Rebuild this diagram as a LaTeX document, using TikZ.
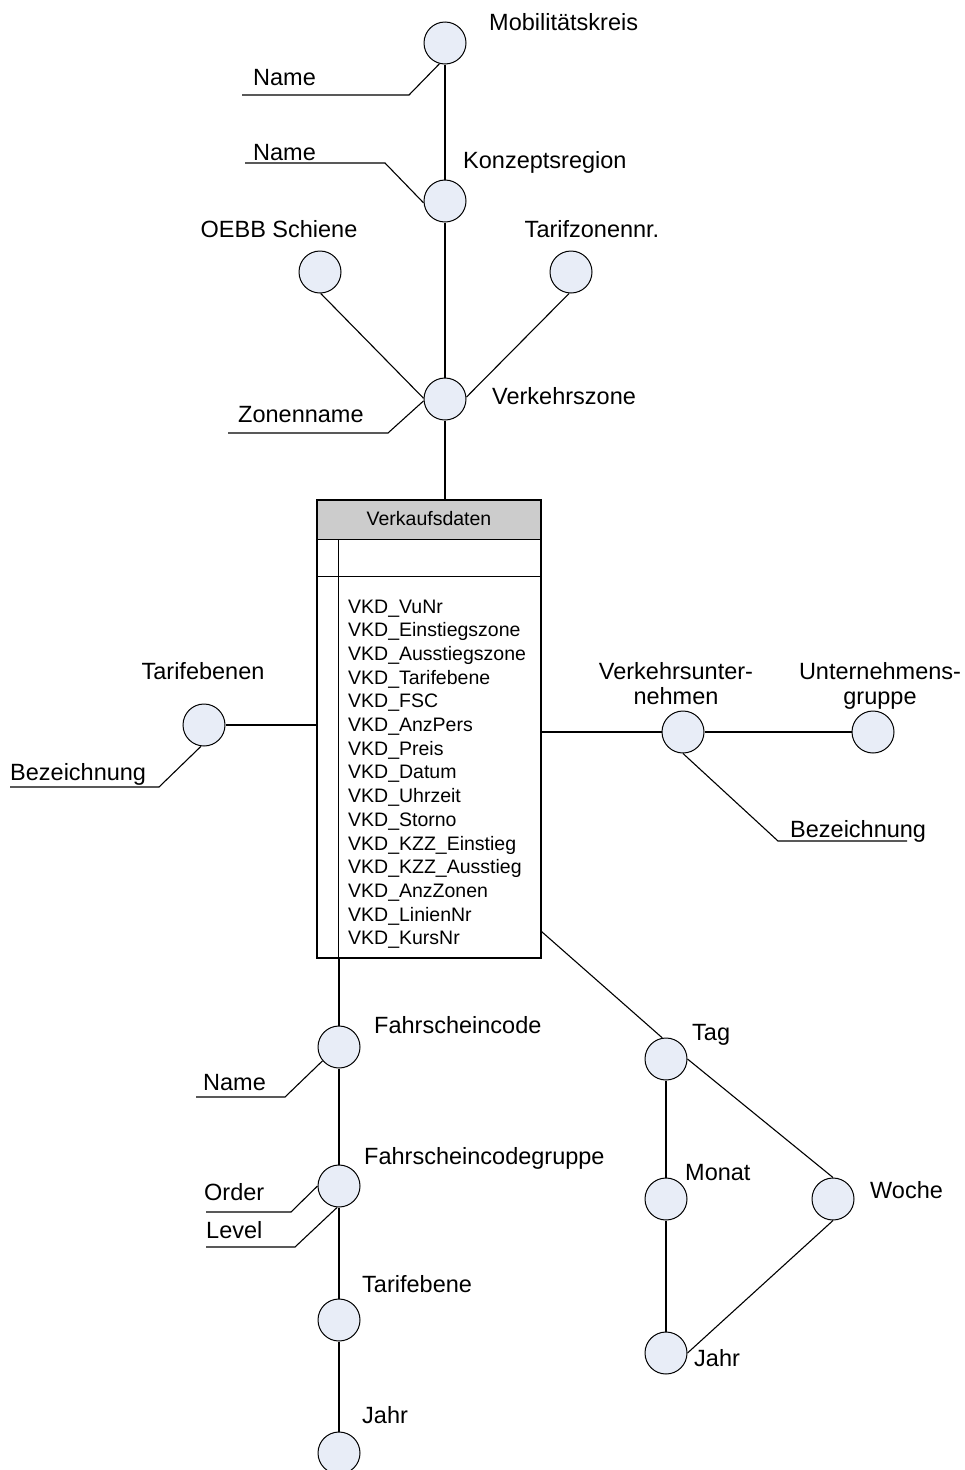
\documentclass[tikz,border=0pt]{standalone}
\usepackage{fontspec}
\setmainfont{Liberation Sans}
\usetikzlibrary{calc}
\definecolor{entfill}{RGB}{232,237,247}
\definecolor{headfill}{RGB}{204,204,204}
\begin{document}
\begin{tikzpicture}[x=1pt,y=-1pt,
  ent/.style={circle,draw,fill=entfill,minimum size=42pt,inner sep=0pt,line width=1pt},
  lbl/.style={inner sep=0pt,font=\fontsize{23.5}{25}\selectfont},
  row/.style={inner sep=0pt,anchor=base west,font=\fontsize{19.5}{23}\selectfont},
  conn/.style={line width=1.1pt}]
\useasboundingbox (0,0) rectangle (964,1470);
\clip (0,0) rectangle (964,1470);

% ---- fact table ----
\path[fill=headfill] (317,500) rectangle (541,540);
\node[draw,line width=1.1pt,minimum width=224pt,minimum height=458pt,inner sep=0pt] (vkd) at (429,729) {};
\draw[conn] ($(vkd.north west)+(0,40)$) -- ($(vkd.north east)+(0,40)$);
\draw[conn] ($(vkd.north west)+(0,77)$) -- ($(vkd.north east)+(0,77)$);
\draw[conn] ($(vkd.north west)+(22,40)$) -- ($(vkd.south west)+(22,0)$);
\node[row,anchor=base] (vkdtitle) at (429,525) {Verkaufsdaten};
\foreach \t [count=\i] in {VKD\_VuNr, VKD\_Einstiegszone, VKD\_Ausstiegszone,
  VKD\_Tarifebene, VKD\_FSC, VKD\_AnzPers, VKD\_Preis, VKD\_Datum, VKD\_Uhrzeit,
  VKD\_Storno, VKD\_KZZ\_Einstieg, VKD\_KZZ\_Ausstieg, VKD\_AnzZonen,
  VKD\_LinienNr, VKD\_KursNr}
  \node[row] (attr\i) at (348,{613+23.7*(\i-1)}) {\t};

% ---- dimension levels ----
\node[ent] (mk)  at (445,43)   {};
\node[ent] (kr)  at (445,201)  {};
\node[ent] (oe)  at (320,272)  {};
\node[ent] (tz)  at (571,272)  {};
\node[ent] (vz)  at (445,399)  {};
\node[ent] (te)  at (204,725)  {};
\node[ent] (vu)  at (683,732)  {};
\node[ent] (ug)  at (873,732)  {};
\node[ent] (fc)  at (339,1047) {};
\node[ent] (fcg) at (339,1186) {};
\node[ent] (tfe) at (339,1320) {};
\node[ent] (jl)  at (339,1453) {};
\node[ent] (tag) at (666,1059) {};
\node[ent] (mon) at (666,1199) {};
\node[ent] (wo)  at (833,1199) {};
\node[ent] (jr)  at (666,1353) {};

% ---- level labels ----
\node[lbl,anchor=base west] (lmk)  at (489,30)   {Mobilitätskreis};
\node[lbl,anchor=base west] (lkr)  at (463,168)  {Konzeptsregion};
\node[lbl,anchor=base]      (loe)  at (279,237)  {OEBB Schiene};
\node[lbl,anchor=base]      (ltz)  at (592,237)  {Tarifzonennr.};
\node[lbl,anchor=base west] (lvz)  at (492,404)  {Verkehrszone};
\node[lbl,anchor=base]      (lte)  at (203,679)  {Tarifebenen};
\node[lbl,anchor=north,align=center] (lvu) at (676,662) {Verkehrsunter-\\nehmen};
\node[lbl,anchor=north,align=center] (lug) at (880,662) {Unternehmens-\\gruppe};
\node[lbl,anchor=base west] (lfc)  at (374,1033) {Fahrscheincode};
\node[lbl,anchor=base west] (lfcg) at (364,1164) {Fahrscheincodegruppe};
\node[lbl,anchor=base west] (ltfe) at (362,1292) {Tarifebene};
\node[lbl,anchor=base west] (ljl)  at (362,1423) {Jahr};
\node[lbl,anchor=base west] (ltag) at (692,1040) {Tag};
\node[lbl,anchor=base west] (lmon) at (685,1180) {Monat};
\node[lbl,anchor=base west] (lwo)  at (870,1198) {Woche};
\node[lbl,anchor=base west] (ljr)  at (694,1366) {Jahr};

% ---- attribute labels ----
\node[lbl,anchor=base west] (amk)  at (253,85)   {Name};
\node[lbl,anchor=base west] (akr)  at (253,160)  {Name};
\node[lbl,anchor=base west] (avz)  at (238,422)  {Zonenname};
\node[lbl,anchor=base west] (ate)  at (10,780)   {Bezeichnung};
\node[lbl,anchor=base west] (avu)  at (790,837)  {Bezeichnung};
\node[lbl,anchor=base west] (afc)  at (203,1090) {Name};
\node[lbl,anchor=base west] (aord) at (204,1200) {Order};
\node[lbl,anchor=base west] (alev) at (206,1238) {Level};

% ---- attribute leader lines ----
\coordinate (mk1) at (409,95);   \coordinate (mk2) at (242,95);
\coordinate (kr1) at (385,163);  \coordinate (kr2) at (245,163);
\coordinate (vz1) at (388,433);  \coordinate (vz2) at (228,433);
\coordinate (te1) at (159,787);  \coordinate (te2) at (10,787);
\coordinate (vu1) at (778,841);  \coordinate (vu2) at (907,841);
\coordinate (fc1) at (285,1097); \coordinate (fc2) at (196,1097);
\coordinate (or1) at (291,1212); \coordinate (or2) at (206,1212);
\coordinate (lv1) at (295,1247); \coordinate (lv2) at (206,1247);
\draw[conn] (mk.255) -- (mk1) -- (mk2);
\draw[conn] (kr.185) -- (kr1) -- (kr2);
\draw[conn] (vz.185) -- (vz1) -- (vz2);
\draw[conn] (te.262) -- (te1) -- (te2);
\draw[conn] (vu.south) -- (vu1) -- (vu2);
\draw[conn] (fc.220) -- (fc1) -- (fc2);
\draw[conn] (fcg.180) -- (or1) -- (or2);
\draw[conn] (fcg.265) -- (lv1) -- (lv2);

% ---- hierarchy connectors ----
\draw[conn] (mk) -- (kr);
\draw[conn] (kr) -- (vz);
\draw[conn] (oe.272) -- (vz.178);
\draw[conn] (tz.265) -- (vz.5);
\draw[conn] (vz) -- (vz |- vkd.north);
\draw[conn] (te) -- (te -| vkd.west);
\draw[conn] (vu -| vkd.east) -- (vu);
\draw[conn] (vu) -- (ug);
\draw[conn] (vkd.south -| fc) -- (fc);
\draw[conn] (fc) -- (fcg);
\draw[conn] (fcg) -- (tfe);
\draw[conn] (tfe) -- (jl);
\coordinate (vkdtag) at ($(vkd.south east)+(0,-27)$);
\draw[conn] (vkdtag) -- (tag.100);
\draw[conn] (tag) -- (mon);
\draw[conn] (mon) -- (jr);
\draw[conn] (tag.east) -- (wo.north);
\draw[conn] (wo.south) -- (jr.east);
\end{tikzpicture}
\end{document}
